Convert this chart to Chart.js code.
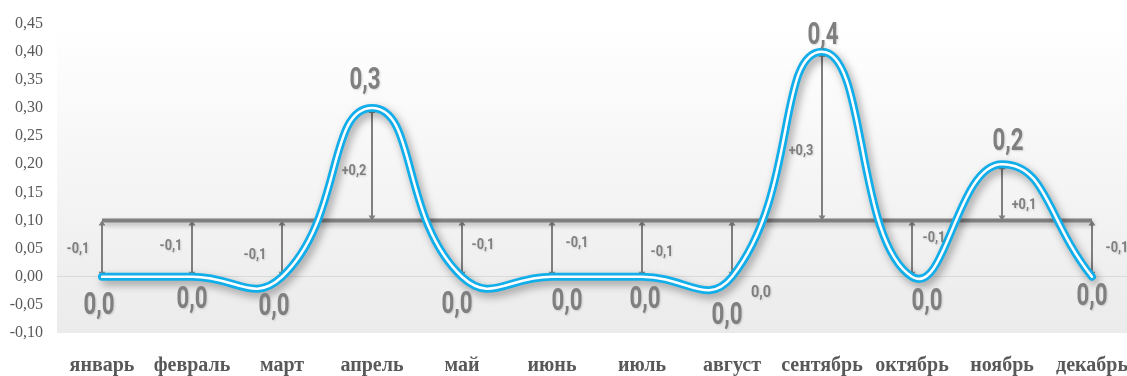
<!DOCTYPE html>
<html>
<head>
<meta charset="utf-8">
<script src="https://cdn.jsdelivr.net/npm/chart.js@4"></script>
<style>
    html, body { margin: 0; padding: 0; background: #fff; overflow: hidden; }
    #wrap { width: 1137px; height: 376px; }
</style>
</head>
<body>
<div id="wrap"><canvas id="chart" width="1137" height="376"></canvas></div>
<script>
// Chart data
const months = ['январь', 'февраль', 'март', 'апрель', 'май', 'июнь', 'июль', 'август', 'сентябрь', 'октябрь', 'ноябрь', 'декабрь'];
const values = [0, 0, 0, 0.3, 0, 0, 0, 0, 0.4, 0, 0.2, 0];
const meanValues = [0.1, 0.1, 0.1, 0.1, 0.1, 0.1, 0.1, 0.1, 0.1, 0.1, 0.1, 0.1];
const deviationLabels = ['-0,1', '-0,1', '-0,1', '+0,2', '-0,1', '-0,1', '-0,1', '0,0', '+0,3', '-0,1', '+0,1', '-0,1'];
const yMin = -0.1;
const yMax = 0.45;
const yStep = 0.05;

// Label placement (offsets in px from point / arrow middle)
const valueLabelOffsets = [[-3, 30], [0, 24], [-8, 31], [-7, -27], [-5, 29], [15, 26], [3, 24], [-5, 40], [1, -15], [15, 26], [6, -22], [0, 21]];
const deviationLabelOffsets = [[-24, 1], [-21, -2], [-27, 7], [-18, 7], [21, -3], [25, -5], [20, 4], [29, 44], [-21, 15], [22, -10], [22, 13], [25, 0]];

const GREY = '#7f7f7f';

function fmt(v, digits) {
    return v.toFixed(digits).replace('.', ',');
}

// Plot area gradient
const backgroundPlugin = {
    id: 'plotBackground',
    beforeDraw(chart) {
        const { ctx, chartArea: a } = chart;
        const g = ctx.createLinearGradient(0, a.top, 0, a.bottom);
        g.addColorStop(0, '#ffffff');
        g.addColorStop(1, '#ebebeb');
        ctx.save();
        ctx.fillStyle = g;
        ctx.fillRect(a.left, a.top, a.right - a.left, a.bottom - a.top);
        ctx.restore();
    }
};

function arrowHead(ctx, x, y, dir) {
    // dir: -1 points up, 1 points down
    ctx.beginPath();
    ctx.moveTo(x, y);
    ctx.lineTo(x - 3.5, y - dir * 5);
    ctx.lineTo(x + 3.5, y - dir * 5);
    ctx.closePath();
    ctx.fill();
}

// Deviation arrows between mean line and each value
const arrowsPlugin = {
    id: 'deviationArrows',
    beforeDatasetsDraw(chart) {
        const { ctx, scales: { x, y } } = chart;
        ctx.save();
        ctx.strokeStyle = GREY;
        ctx.fillStyle = GREY;
        ctx.lineWidth = 2;
        values.forEach((v, i) => {
            const px = x.getPixelForValue(i);
            const y0 = y.getPixelForValue(meanValues[i]);
            const y1 = y.getPixelForValue(v);
            const dir = y1 > y0 ? 1 : -1;
            ctx.beginPath();
            ctx.moveTo(px, y0 + dir * 2);
            ctx.lineTo(px, y1 - dir * 2);
            ctx.stroke();
            arrowHead(ctx, px, y1, dir);
            arrowHead(ctx, px, y0, -dir);
        });
        ctx.restore();
    }
};

// Soft shadow under the blue line and the mean line
const shadowPlugin = {
    id: 'lineShadow',
    beforeDatasetDraw(chart, args) {
        const ctx = chart.ctx;
        ctx.save();
        if (args.index === 1) {
            ctx.shadowColor = 'rgba(0, 0, 0, 0.35)';
            ctx.shadowBlur = 8;
            ctx.shadowOffsetX = 3;
            ctx.shadowOffsetY = 4;
        } else if (args.index === 2) {
            ctx.shadowColor = 'rgba(0, 0, 0, 0.25)';
            ctx.shadowBlur = 5;
            ctx.shadowOffsetX = 2;
            ctx.shadowOffsetY = 3;
        }
    },
    afterDatasetDraw(chart) {
        chart.ctx.restore();
    }
};

function drawNarrowText(ctx, text, cx, cy, font, sx) {
    ctx.save();
    ctx.translate(cx, cy);
    ctx.scale(sx, 1);
    ctx.font = font;
    ctx.textAlign = 'center';
    ctx.textBaseline = 'middle';
    ctx.fillText(text, 0, 0);
    ctx.restore();
}

// Value and deviation labels
const labelsPlugin = {
    id: 'valueLabels',
    afterDatasetsDraw(chart) {
        const { ctx, scales: { x, y } } = chart;
        ctx.save();
        ctx.fillStyle = GREY;
        ctx.shadowColor = 'rgba(0, 0, 0, 0.15)';
        ctx.shadowBlur = 2;
        ctx.shadowOffsetX = 1;
        ctx.shadowOffsetY = 1;
        values.forEach((v, i) => {
            const px = x.getPixelForValue(i);
            const py = y.getPixelForValue(v);
            const o = valueLabelOffsets[i];
            drawNarrowText(ctx, fmt(v, 1), px + o[0], py + o[1], 'bold 31px Roboto', 0.72);

            const mid = (py + y.getPixelForValue(meanValues[i])) / 2;
            const d = deviationLabelOffsets[i];
            const small = deviationLabels[i] === '0,0' ? 'bold 17px Roboto' : 'bold 15px Roboto';
            drawNarrowText(ctx, deviationLabels[i], px + d[0], mid + d[1], small, 0.85);
        });
        ctx.restore();
    }
};

new Chart(document.getElementById('chart'), {
    type: 'line',
    data: {
        labels: months,
        datasets: [
            {
                label: 'inner',
                data: values,
                borderColor: '#ffffff',
                borderWidth: 2.5,
                tension: 0.5,
                pointRadius: 0,
                borderCapStyle: 'round',
                order: 0
            },
            {
                label: 'values',
                data: values,
                borderColor: '#12aeea',
                borderWidth: 8,
                tension: 0.5,
                pointRadius: 0,
                borderCapStyle: 'round',
                order: 1
            },
            {
                label: 'mean',
                data: meanValues,
                borderColor: GREY,
                borderWidth: 4,
                tension: 0,
                pointRadius: 0,
                borderCapStyle: 'butt',
                order: 2
            }
        ]
    },
    options: {
        responsive: false,
        animation: false,
        layout: { padding: { top: 10, left: 0, right: 0, bottom: 0 } },
        plugins: {
            legend: { display: false },
            tooltip: { enabled: false }
        },
        scales: {
            x: {
                offset: true,
                grid: { display: false, drawTicks: false },
                border: { display: false },
                ticks: {
                    color: '#595959',
                    font: { family: 'Liberation Serif', size: 20, weight: 'bold' },
                    padding: 21,
                    maxRotation: 0,
                    autoSkip: false
                },
                afterFit(scale) {
                    scale.height = 43;
                    scale.paddingLeft = 0;
                    scale.paddingRight = 0;
                }
            },
            y: {
                min: yMin,
                max: yMax,
                grid: {
                    color: (c) => Math.abs(c.tick.value) < 1e-9 ? '#d9d9d9' : 'rgba(0,0,0,0)',
                    lineWidth: 1,
                    drawTicks: false
                },
                border: { display: false },
                ticks: {
                    stepSize: yStep,
                    color: '#595959',
                    font: { family: 'Liberation Serif', size: 16 },
                    padding: 14,
                    callback: (v) => fmt(v, 2)
                },
                afterFit(scale) { scale.width = 57; }
            }
        }
    },
    plugins: [backgroundPlugin, arrowsPlugin, shadowPlugin, labelsPlugin]
});
</script>
</body>
</html>
